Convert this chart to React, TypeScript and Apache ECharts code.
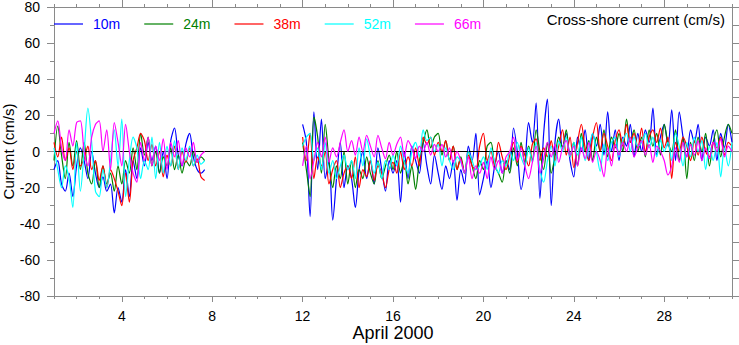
import React, { useEffect, useRef } from "react";
import * as echarts from "echarts";

// sampling: every 4 hours (1/6 day)
const STEP = 1 / 6;
const SEG1_START = 1; // April 1
const SEG2_START = 12; // April 12

const seriesNames = ["10m", "24m", "38m", "52m", "66m"];
const seriesColors = ["#0000ff", "#008000", "#ff0000", "#00ffff", "#ff00ff"];

const majorTickDays = [4, 8, 12, 16, 20, 24, 28];
const yTicks = [-80, -60, -40, -20, 0, 20, 40, 60, 80];

// Segment 1 (April 1 - 7.7)
const v10a = [-10, -5, -18, -22, -12, -25, -8, 2, -5, -15, 0, -12, -20, -14, -22, -18, -34, -20, -28, -10, -25, -5, -15, 2, -8, 5, -5, 3, -12, 0, -15, 6, 13, -2, -8, 4, 10, -3, -10, -12, -10];
const v24a = [-5, 14, -2, -15, 5, -8, 6, -10, 5, -12, -18, -5, -20, -8, -18, -12, -22, -8, -18, -5, -12, 2, -10, 10, -2, 8, -8, 0, -12, -3, -8, 2, -10, -2, -12, -5, -8, 0, -6, -3, -5];
const v38a = [5, -3, 8, -5, 2, -10, 0, -8, -4, 3, -10, -5, -16, -8, -20, -10, -15, -22, -30, -12, -28, -5, 2, 10, 6, -5, 4, -8, 0, -14, -2, -8, 3, -10, 0, -6, 2, -8, -4, -14, -16];
const v52a = [2, -10, -20, -8, -15, -31, 5, -22, 0, 24, 5, -22, -25, -10, -20, -5, 12, -8, 18, -25, -5, 8, 2, -15, -5, -10, 8, -15, 5, -12, 3, -8, 6, -10, 2, -5, 3, -8, -2, -7, -5];
const v66a = [10, 17, 2, -5, 12, 3, 16, 17, 0, -8, 8, 15, 17, 0, 12, -10, 16, 5, -8, 15, 0, -12, -17, 5, -5, 8, -8, 3, -5, 7, -10, 5, -3, 6, -8, 2, -3, 5, -6, -2, 0];

// Segment 2 (April 12 - May 1)
const v10b = [
  15, 5, -36, 22, -10, 18,
  -15, -5, -38, -15, 5, -20,
  -8, -15, -31, -10, 0, -15,
  -5, -18, 2, -10, -22, -5,
  -12, -5, -28, 0, -15, 3,
  -5, -12, 5, -8, -18, -2,
  -12, -21, -8, -15, -5, -27,
  -10, -18, 3, -5, 10, -24,
  -15, -5, -20, -8, 0, -12,
  -5, -10, 13, 0, -21, -8,
  16, 5, 27, -26, 10, 29,
  -30, 5, 18, 2, 10, -5,
  -14, 8, 0, 12, -5, 10,
  3, 15, -2, 22, 0, 12,
  -5, 8, 3, 15, -3, 10,
  0, 12, 5, 24, -2, 8,
  15, 3, 23, -5, 22, 8,
  -3, 12, 5, 15, -5, 8,
  3, 12, -5, 10, 2, 15,
  5,
];
const v24b = [
  5, -10, -25, 19, 8, -12,
  15, -5, -20, -8, -15, 0,
  -18, -5, -20, -10, -15, -3,
  -12, -18, -5, -15, -8, -2,
  -10, 0, -12, -5, -18, -8,
  -21, -5, 5, 12, 2, 8,
  10, -2, 6, -5, 3, -10,
  -3, -12, 0, -8, -15, -5,
  -10, 3, 5, -8, -12, -17,
  -5, -12, 2, -8, 5, -6,
  3, -5, 12, 0, -10, 5,
  -12, -3, 8, 2, 12, -3,
  5, -8, 10, 0, 6, -5,
  8, 0, 12, -3, 8, 2,
  10, 0, 18, 5, 12, 0,
  8, -3, 12, 3, 10, -2,
  15, 5, 0, 12, -5, 8,
  -15, 5, -5, 8, 0, 10,
  -8, 5, 12, -3, 8, 15,
  10,
];
const v38b = [
  8, -5, 10, -15, -3, -8,
  0, -18, -10, -5, -20, -12,
  -8, -15, -3, -20, -10, -14,
  -5, -16, -8, -12, -20, -10,
  -6, -12, 0, -10, -3, -8,
  2, -8, 8, 4, 8, -2,
  5, 0, 6, -5, 3, -10,
  -4, -12, -2, -8, -10, 3,
  10, -5, 0, -8, 5, -3,
  -10, -2, 5, -6, 3, -2,
  -8, 4, 7, -5, 2, -3,
  6, -5, 3, 12, -2, 8,
  -9, 5, 15, 2, -5, 8,
  16, 0, 10, 3, -5, 6,
  12, 3, 15, 5, 10, 2,
  13, 0, 8, 12, 5, 13,
  2, 8, -15, 5, 0, 8,
  3, -5, 6, -2, 8, 0,
  -3, 5, 2, 8, -2, 5,
  3,
];
const v52b = [
  3, 8, 10, -5, 2, -10,
  5, -12, -5, -15, -8, -2,
  -10, -5, -15, 2, -8, 7,
  -3, -12, -6, -15, -5, -10,
  -2, -8, 3, -6, -12, 0,
  5, -3, 12, 6, 8, 0,
  4, -8, 2, -5, -10, -3,
  -6, -12, 0, -5, -10, -8,
  -3, -10, 2, -6, -12, -5,
  -8, 0, -5, 5, -3, -8,
  2, -6, 5, -10, -17, -5,
  3, -8, 6, 0, 8, -3,
  5, -2, 8, -5, 2, 10,
  0, -11, 4, -5, 5, 8,
  -3, 6, 10, 0, 8, 3,
  5, 10, 2, 8, -3, 6,
  0, 5, -5, 10, 3, -8,
  5, -3, 8, 0, 6, -10,
  3, -5, 5, -14, 2, -8,
  5,
];
const v66b = [
  -8, 3, -15, -5, 5, -3,
  8, -6, 2, -3, 5, 12,
  0, 6, -2, 8, 0, 9,
  3, -3, 9, 2, -4, 5,
  -2, 4, 8, -3, 6, 2,
  -4, 3, 0, 5, -2, 4,
  0, 4, -3, 2, -6, 0,
  -5, -12, -3, -15, -8, -12,
  -6, -15, -3, -10, -5, -12,
  -3, 0, 8, -5, 2, -8,
  -15, -6, 3, -12, -4, 5,
  -3, 4, -6, 2, 6, -2,
  3, -8, 2, -4, 5, -6,
  0, -5, -14, 2, -8, 4,
  -2, 5, 0, 8, -3, 2,
  6, -2, 4, -6, 3, 0,
  -5, -13, -8, 2, -6, 5,
  -3, 4, -2, 6, -5, 2,
  -4, 5, 0, 7, -3, 3,
  0,
];

const segA = [v10a, v24a, v38a, v52a, v66a];
const segB = [v10b, v24b, v38b, v52b, v66b];

const GRAY = "#8a8a8a";
const FONT = "'Liberation Sans', Arial, Helvetica, sans-serif";

function buildSeriesData(a: number[], b: number[]) {
  const out: (number | null)[][] = [];
  a.forEach((v, i) => out.push([SEG1_START + i * STEP, v]));
  out.push([(SEG1_START + a.length * STEP + SEG2_START) / 2, null]);
  b.forEach((v, i) => out.push([SEG2_START + i * STEP, v]));
  return out;
}

export default function App() {
  const ref = useRef<HTMLDivElement>(null);
  useEffect(() => {
    if (!ref.current) return;
    const chart = echarts.init(ref.current, null, { renderer: "svg" });
    const allDays: number[] = [];
    for (let d = 1; d <= 31; d++) allDays.push(d);

    const xBase = {
      type: "value",
      min: 1,
      max: 31,
      gridIndex: 0,
      splitLine: { show: false },
    };

    const option: any = {
      animation: false,
      textStyle: { fontFamily: FONT },
      title: {
        text: "Cross-shore current (cm/s)",
        right: 14,
        top: 12,
        padding: 0,
        textStyle: { fontSize: 15, fontWeight: "normal", color: "#000", fontFamily: FONT },
      },
      legend: {
        left: 54,
        top: 17,
        padding: 0,
        icon: "rect",
        itemWidth: 29,
        itemHeight: 1.2,
        itemGap: 24,
        textStyle: { fontSize: 14, padding: [0, 0, 0, 5], fontFamily: FONT },
        data: seriesNames.map((n, i) => ({ name: n, textStyle: { color: seriesColors[i] } })),
      },
      grid: {
        left: 54,
        right: 7,
        top: 7,
        bottom: 49,
        containLabel: false,
        outerBoundsMode: "none",
      },
      xAxis: [
        {
          ...xBase,
          position: "bottom",
          axisLine: { show: true, onZero: false, lineStyle: { color: GRAY, width: 1 } },
          axisTick: { show: true, length: 6, customValues: majorTickDays, lineStyle: { color: GRAY } },
          axisLabel: { show: true, customValues: majorTickDays, fontSize: 14, color: "#000", margin: 13, fontFamily: FONT },
          name: "April 2000",
          nameLocation: "middle",
          nameGap: 28,
          nameMoveOverlap: false,
          nameTextStyle: { fontSize: 18, color: "#000", fontFamily: FONT },
        },
        {
          ...xBase,
          position: "bottom",
          axisLine: { show: false, onZero: false },
          axisTick: { show: true, length: 3, customValues: allDays, lineStyle: { color: GRAY } },
          axisLabel: { show: false },
        },
        {
          ...xBase,
          position: "top",
          axisLine: { show: true, onZero: false, lineStyle: { color: GRAY, width: 1 } },
          axisTick: { show: true, length: 7, customValues: majorTickDays, lineStyle: { color: GRAY } },
          axisLabel: { show: false },
        },
        {
          ...xBase,
          position: "top",
          axisLine: { show: false, onZero: false },
          axisTick: { show: true, length: 3, customValues: allDays, lineStyle: { color: GRAY } },
          axisLabel: { show: false },
        },
      ],
      yAxis: [
        {
          type: "value",
          position: "left",
          min: yTicks[0],
          max: yTicks[yTicks.length - 1],
          interval: 20,
          splitLine: { show: false },
          axisLine: { show: true, onZero: false, lineStyle: { color: GRAY, width: 1 } },
          axisTick: { show: true, length: 7, lineStyle: { color: GRAY } },
          minorTick: { show: true, splitNumber: 2, length: 4, lineStyle: { color: GRAY } },
          axisLabel: { fontSize: 14, color: "#000", margin: 14, fontFamily: FONT },
          name: "Current (cm/s)",
          nameLocation: "middle",
          nameRotate: 90,
          nameGap: 38,
          nameMoveOverlap: false,
          nameTextStyle: { fontSize: 15, color: "#000", fontFamily: FONT },
        },
        {
          type: "value",
          position: "right",
          min: yTicks[0],
          max: yTicks[yTicks.length - 1],
          interval: 20,
          splitLine: { show: false },
          axisLine: { show: true, onZero: false, lineStyle: { color: GRAY, width: 1 } },
          axisTick: { show: true, length: 7, lineStyle: { color: GRAY } },
          minorTick: { show: true, splitNumber: 2, length: 7, lineStyle: { color: GRAY } },
          axisLabel: { show: false },
        },
      ],
      series: seriesNames.map((name, i) => {
        const s: any = {
          name,
          type: "line",
          xAxisIndex: 0,
          yAxisIndex: 0,
          data: buildSeriesData(segA[i], segB[i]),
          symbol: "none",
          showSymbol: false,
          connectNulls: false,
          smooth: 0.3,
          color: seriesColors[i],
          lineStyle: { color: seriesColors[i], width: 1.2 },
          z: 2 + i,
        };
        if (i === seriesNames.length - 1) {
          s.markLine = {
            silent: true,
            symbol: ["none", "none"],
            label: { show: false },
            lineStyle: { color: "#000", width: 1.2, type: "solid" },
            data: [{ yAxis: 0 }],
          };
        }
        return s;
      }),
    };
    chart.setOption(option);
    return () => chart.dispose();
  }, []);
  return (
    <div
      ref={ref}
      style={{ position: "absolute", left: 0, top: 0, width: 739, height: 345 }}
    />
  );
}
